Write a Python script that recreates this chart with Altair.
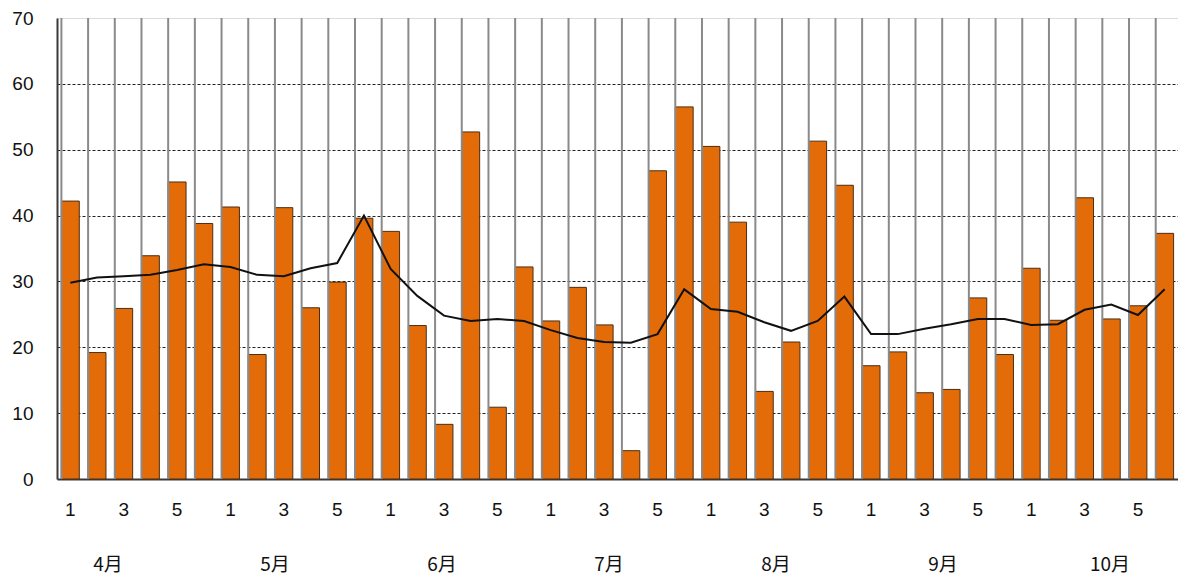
import altair as alt
import pandas as pd

months = ["4月", "5月", "6月", "7月", "8月", "9月", "10月"]
weeks = [1, 2, 3, 4, 5, 6]
bar_values = [
    42.2, 19.2, 25.9, 33.9, 45.1, 38.8,
    41.3, 18.9, 41.2, 26.0, 29.9, 39.6,
    37.6, 23.3, 8.3, 52.7, 10.9, 32.2,
    24.0, 29.1, 23.4, 4.3, 46.8, 56.5,
    50.5, 39.0, 13.3, 20.8, 51.3, 44.6,
    17.2, 19.3, 13.1, 13.6, 27.5, 18.9,
    32.0, 24.1, 42.7, 24.3, 26.3, 37.3,
]
line_values = [
    29.8, 30.6, 30.8, 31.0, 31.75, 32.6,
    32.2, 31.0, 30.8, 32.0, 32.8, 40.0,
    31.9, 27.8, 24.8, 24.0, 24.3, 24.0,
    22.6, 21.4, 20.8, 20.7, 22.0, 28.8,
    25.8, 25.4, 23.8, 22.5, 24.0, 27.7,
    22.0, 22.0, 22.8, 23.5, 24.3, 24.3,
    23.4, 23.5, 25.7, 26.5, 24.9, 28.8,
]

rows = []
i = 0
for m in months:
    for w in weeks:
        rows.append({"key": f"{m}-{w}", "month": m, "week": w,
                     "value": bar_values[i], "avg": line_values[i], "order": i})
        i += 1
df = pd.DataFrame(rows)
keys = list(df["key"])
month_df = pd.DataFrame({"mi": list(range(len(months))), "label": months})

NUMFONT = "Liberation Sans"
JPFONT = "Noto Sans CJK JP"
W, H = 1121, 461

x_enc = alt.X("key:N", sort=keys, scale=alt.Scale(paddingInner=0.33, paddingOuter=0.165),
              axis=alt.Axis(title=None, labelExpr="split(datum.value, '-')[1] % 2 == 1 ? split(datum.value, '-')[1] : ''",
                            labelAngle=0, ticks=False, labelFontSize=19, labelColor="#111111",
                            labelPadding=21, labelFont=NUMFONT, domainColor="#3a3a3a", domainWidth=2,
                            grid=False))
y_enc = alt.Y("value:Q", scale=alt.Scale(domain=[0, 70], nice=False),
              axis=alt.Axis(title=None, values=[0, 10, 20, 30, 40, 50, 60, 70], ticks=False,
                            labelFontSize=19, labelColor="#111111", labelPadding=24, labelFont=NUMFONT,
                            domainColor="#3a3a3a", domainWidth=2,
                            grid=True, gridColor="#222222", gridWidth=1, gridDash=[3, 2],
                            gridOpacity={"condition": {"test": "datum.value == 70 || datum.value == 0", "value": 0}, "value": 1}))

base = alt.Chart(df)

vgrid = base.mark_rule(color="#8a8a8a", strokeWidth=2).encode(
    x=alt.X("key:N", sort=keys, bandPosition=0),
    y=alt.value(0), y2=alt.value(H),
)

bars = base.mark_bar(color="#E36C09", stroke="#4a2e14", strokeWidth=1).encode(
    x=x_enc, y=y_enc,
)

line = base.mark_line(color="#111111", strokeWidth=2).encode(
    x=alt.X("key:N", sort=keys),
    y=alt.Y("avg:Q"),
)

main = alt.layer(bars, vgrid, line)

mlabels = alt.Chart(month_df).mark_text(fontSize=19, font=JPFONT, color="#111111", baseline="middle").encode(
    x=alt.X("mi:Q", scale=alt.Scale(domain=[0, 6], range=[51, 1053]), axis=None),
    y=alt.value(547),
    text="label:N",
)

chart = alt.layer(main, mlabels).resolve_scale(x="independent").properties(
    width=W, height=H,
    autosize=alt.AutoSizeParams(type="none"),
    padding={"left": 49, "top": 10, "right": 0, "bottom": 100},
).configure_view(stroke="#8a8a8a", strokeWidth=2).configure(background="white")

chart.save("out.html", embed_options={"renderer": "svg", "actions": False})
